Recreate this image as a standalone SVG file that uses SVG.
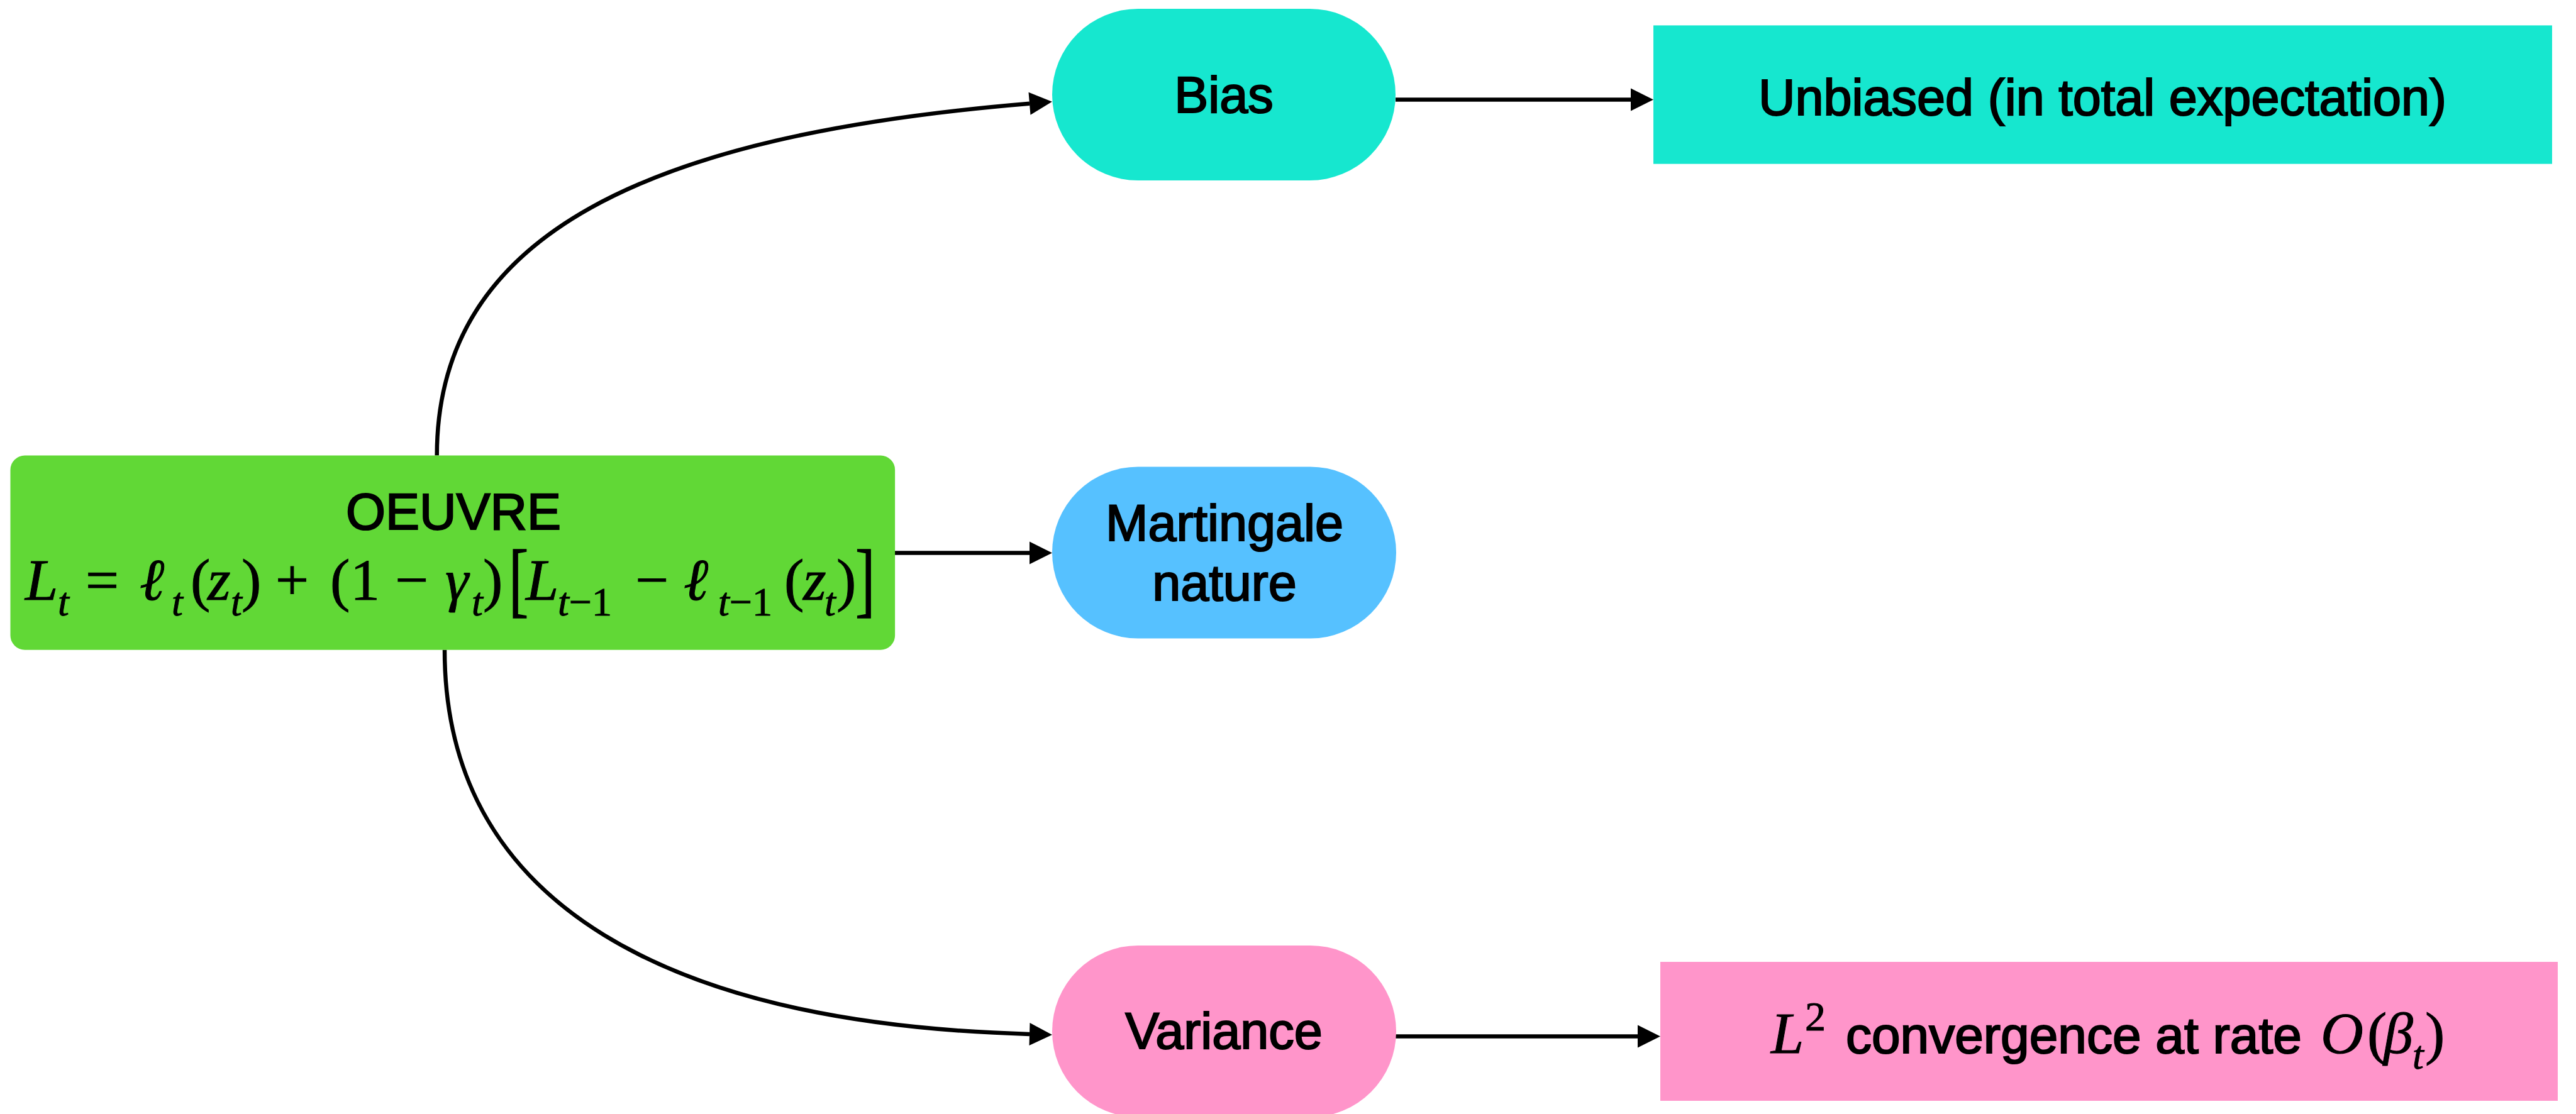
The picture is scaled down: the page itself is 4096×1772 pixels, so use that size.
<svg xmlns="http://www.w3.org/2000/svg" width="4096" height="1772" viewBox="0 0 4096 1772">
<style>
.sans{font-family:"Liberation Sans",Arial,Helvetica,sans-serif;font-size:81px;fill:#000;stroke:#000;stroke-width:2.2px}
.m{font-family:"Liberation Serif","Times New Roman","DejaVu Serif",serif;font-size:94px;fill:#000;stroke:#000;stroke-width:1px}
.i{font-style:italic}
.s{font-size:64px}
.edge{fill:none;stroke:#000;stroke-width:6.5}
</style>
<defs>
<marker id="ah" markerUnits="userSpaceOnUse" markerWidth="37" markerHeight="37" refX="0" refY="18" orient="auto" overflow="visible">
<path d="M0,0 L36,18 L0,36 Z" fill="#000"/>
</marker>
</defs>
<rect width="4096" height="1772" fill="#fff"/>
<g id="connectors">
<path class="edge" d="M694.7,724.4 C694.7,371 1031,215 1637,164.7" marker-end="url(#ah)"/>
<path class="edge" d="M1423,879.5 L1637,879.5" marker-end="url(#ah)"/>
<path class="edge" d="M707,1033.7 C707,1443.75 1072.5,1629.4 1637,1644.9" marker-end="url(#ah)"/>
<path class="edge" d="M2219,158.4 L2593,158.4" marker-end="url(#ah)"/>
<path class="edge" d="M2219,1648.5 L2604,1648.5" marker-end="url(#ah)"/>
</g>
<g id="node-oeuvre">
<rect x="16.5" y="724.4" width="1406.6" height="309.4" rx="23" fill="#61D836"/>
<text class="sans" x="721" y="842" text-anchor="middle">OEUVRE</text>
<text class="m" y="954"><tspan class="i" x="40">L</tspan><tspan class="i s" x="92" y="979">t</tspan><tspan x="136" y="954">=</tspan><tspan class="i" x="222">ℓ</tspan><tspan class="i s" x="273" y="979">t</tspan><tspan x="303" y="954">(</tspan><tspan class="i" x="330">z</tspan><tspan class="i s" x="367" y="979">t</tspan><tspan x="384" y="954">)</tspan><tspan x="438">+</tspan><tspan x="525">(</tspan><tspan x="557">1</tspan><tspan x="628">−</tspan><tspan class="i" x="708">γ</tspan><tspan class="i s" x="750" y="979">t</tspan><tspan x="768" y="954">)</tspan><tspan class="i" x="836">L</tspan><tspan class="s" x="887" y="979"><tspan class="i">t</tspan>−1</tspan><tspan x="1010" y="954">−</tspan><tspan class="i" x="1087">ℓ</tspan><tspan class="s" x="1142" y="979"><tspan class="i">t</tspan>−1</tspan><tspan x="1247" y="954">(</tspan><tspan class="i" x="1277">z</tspan><tspan class="i s" x="1311" y="979">t</tspan><tspan x="1330" y="954">)</tspan></text>
<text class="m" transform="translate(809,965) scale(1,1.4)">[</text>
<text class="m" transform="translate(1360,965) scale(1,1.4)">]</text>
</g>
<g id="node-bias">
<rect x="1673" y="14" width="546" height="273" rx="136.5" fill="#16E7CF"/>
<text class="sans" x="1946" y="179" text-anchor="middle">Bias</text>
</g>
<g id="node-martingale">
<rect x="1673" y="742.5" width="547" height="273" rx="136.5" fill="#56C1FF"/>
<text class="sans" x="1947" y="860" text-anchor="middle">Martingale</text>
<text class="sans" x="1947" y="955" text-anchor="middle">nature</text>
</g>
<g id="node-variance">
<rect x="1673" y="1504" width="547" height="273" rx="136.5" fill="#FF95CA"/>
<text class="sans" x="1946" y="1668" text-anchor="middle">Variance</text>
</g>
<g id="node-unbiased">
<rect x="2629" y="40.4" width="1429" height="220.3" fill="#16E7CF"/>
<text class="sans" x="3343" y="183" text-anchor="middle">Unbiased (in total expectation)</text>
</g>
<g id="node-l2">
<rect x="2640" y="1530" width="1427" height="221" fill="#FF95CA"/>
<text class="m" y="1675"><tspan class="i" x="2816">L</tspan><tspan x="2870" y="1639" style="font-size:66px">2</tspan><tspan class="sans" x="2935" y="1675" style="font-size:82px">convergence at rate</tspan><tspan class="i" x="3690">O</tspan><tspan x="3764">(</tspan><tspan class="i" x="3790">β</tspan><tspan class="i s" x="3836" y="1700">t</tspan><tspan x="3856" y="1675">)</tspan></text>
</g>
</svg>
